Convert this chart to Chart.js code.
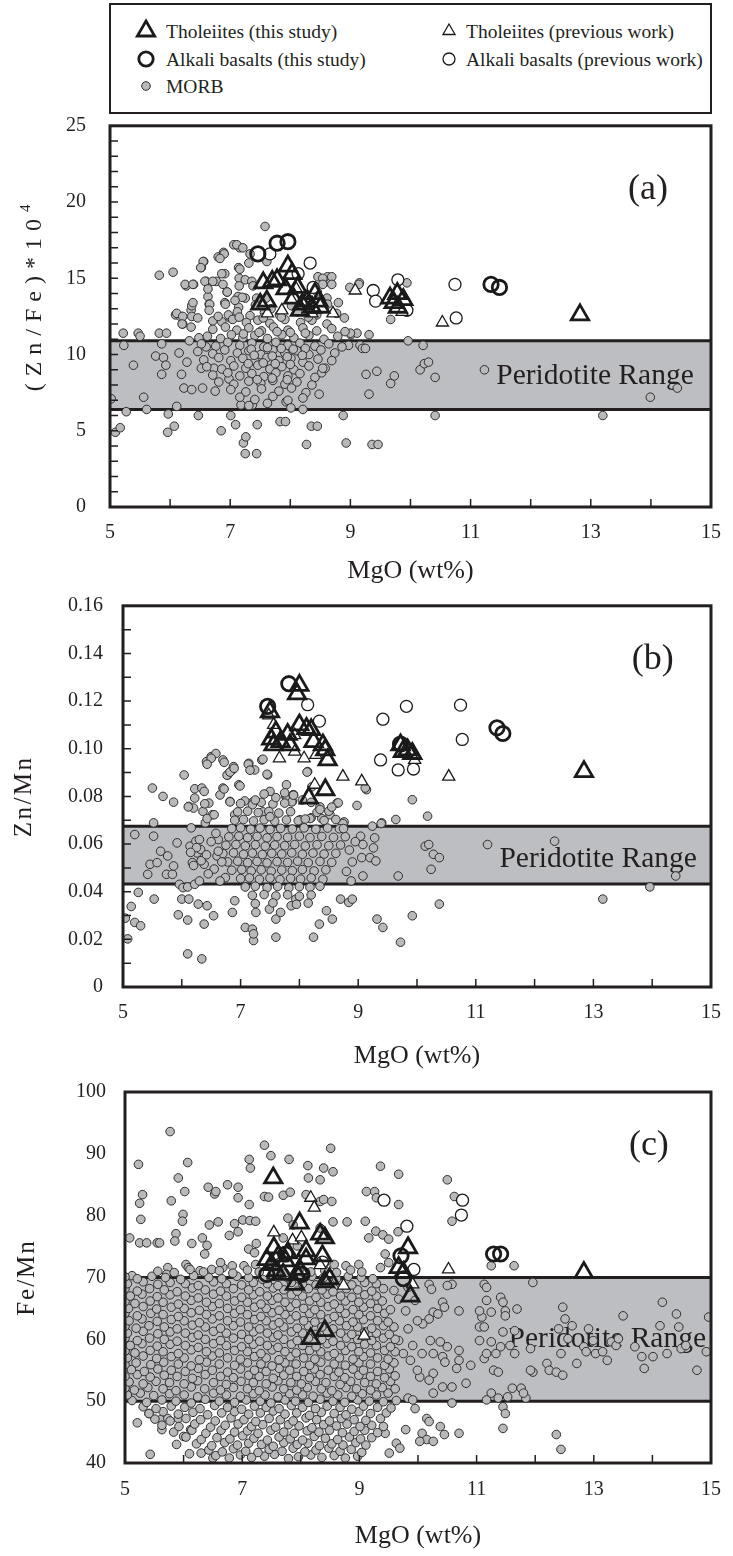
<!DOCTYPE html>
<html><head><meta charset="utf-8">
<script src="https://cdn.jsdelivr.net/npm/chart.js@4.4.1/dist/chart.umd.min.js"></script>
<style>
html,body{margin:0;padding:0;background:#fff;}
body{width:733px;height:1556px;position:relative;overflow:hidden;font-family:"Liberation Serif","Times New Roman",serif;color:#231f20;}
canvas{position:absolute;left:0;}
#legendBox{position:absolute;left:109px;top:3px;width:599px;height:107px;border:2.5px solid #231f20;}
.li{position:absolute;font-family:"Liberation Serif","Times New Roman",serif;font-size:19.5px;white-space:nowrap;line-height:20px;}
.sym{position:absolute;}
</style></head><body>
<div id="legendBox"></div>
<canvas id="cA" width="733" height="480" style="top:113px;width:733px;height:480px"></canvas>
<canvas id="cB" width="733" height="480" style="top:593px;width:733px;height:480px"></canvas>
<canvas id="cC" width="733" height="483" style="top:1073px;width:733px;height:483px"></canvas>
<script>
// ---------------- DATA ----------------
const xTickLabels = [5,7,9,11,13,15];
const yTickLabelsA = [0,5,10,15,20,25];
const yTickLabelsB = [0,0.02,0.04,0.06,0.08,0.10,0.12,0.14,0.16];
const yTickTextB = ['0','0.02','0.04','0.06','0.08','0.10','0.12','0.14','0.16'];
const yTickLabelsC = [40,50,60,70,80,90,100];
const legendLabels = ['Tholeiites (this study)','Tholeiites (previous work)','Alkali basalts (this study)','Alkali basalts (previous work)','MORB'];
const peridotiteA = [6.4,10.9];
const peridotiteB = [0.0432,0.0675];
const peridotiteC = [50,70];

// Panel (a): (Zn/Fe)*1e4 vs MgO
const thoThisA = [[7.5,13.3],[7.61,13.5],[7.55,14.7],[7.7,14.8],[7.78,14.9],[7.96,15.8],[8.03,15.3],[8.05,13.7],[8.16,12.9],[8.2,13.3],[8.28,13.5],[8.36,13.1],[8.41,14.0],[8.47,13.5],[8.5,13.1],[7.92,14.3],[8.12,14.4],[9.66,13.7],[9.78,14.0],[9.88,13.6],[9.79,13.1],[9.72,13.4],[12.82,12.6]];
const thoPrevA = [[9.08,14.2],[8.71,12.7],[8.36,12.7],[7.86,12.9],[7.62,12.7],[10.53,12.1],[9.86,12.8],[8.1,14.3],[8.02,13.6]];
const alkThisA = [[7.46,16.6],[7.78,17.3],[7.96,17.4],[11.34,14.6],[11.48,14.4]];
const alkPrevA = [[8.33,16.0],[8.13,15.3],[7.66,16.6],[9.38,14.2],[9.42,13.5],[9.79,14.9],[9.94,12.9],[8.38,14.4],[10.74,14.6],[10.76,12.4]];
const morbA = [[5.02,7.1],[5.09,4.9],[5.17,5.2],[5.23,10.6],[5.22,11.4],[5.27,6.25],[5.39,9.3],[5.47,11.4],[5.5,11.2],[5.56,7.2],[5.61,6.4],[5.76,9.9],[5.82,11.4],[5.82,15.2],[5.86,10.7],[5.86,8.7],[5.89,9.8],[5.93,9.3],[5.94,11.4],[5.96,4.9],[5.97,6.1],[6.05,15.4],[6.07,5.3],[6.09,12.6],[6.11,6.6],[6.15,10.1],[6.17,12.5],[6.19,8.7],[6.21,12.0],[6.23,7.8],[6.27,14.5],[6.28,9.5],[6.32,10.9],[6.35,12.9],[6.36,7.7],[6.36,13.2],[6.39,14.6],[6.47,6.0],[6.48,11.1],[6.52,15.7],[6.56,16.1],[6.52,9.1],[6.54,7.8],[6.6,10.5],[6.6,14.8],[6.63,13.8],[6.65,13.3],[6.71,12.2],[6.73,9.1],[6.75,7.6],[6.77,14.8],[6.8,16.4],[6.85,5.0],[6.89,16.7],[6.91,15.3],[6.95,14.1],[6.98,8.4],[7.01,6.0],[7.06,17.2],[7.09,5.4],[7.14,15.7],[7.16,17.0],[7.18,6.7],[7.22,4.2],[7.25,3.5],[7.26,4.6],[7.31,16.0],[7.37,6.7],[7.44,3.5],[7.45,5.4],[7.58,18.4],[7.61,16.1],[7.83,5.6],[7.92,5.6],[7.93,6.9],[8.21,6.4],[8.27,4.1],[8.35,5.3],[8.45,5.3],[8.46,15.1],[8.48,7.4],[8.52,8.8],[8.58,9.1],[8.62,15.1],[8.67,14.7],[8.88,6.0],[8.93,4.2],[8.97,10.6],[9.01,11.3],[9.11,11.4],[9.15,14.7],[9.16,10.6],[9.2,10.4],[9.25,10.4],[9.26,8.7],[9.31,11.3],[9.31,7.4],[9.36,4.1],[9.44,8.9],[9.46,4.1],[9.67,12.3],[9.67,8.1],[9.73,8.6],[9.96,10.9],[9.94,14.7],[10.16,9.0],[10.21,10.6],[10.23,9.4],[10.3,9.5],[10.41,8.5],[10.41,6.0],[11.23,9.0],[13.2,6.0],[13.99,7.2],[14.44,7.8],
[7.11,17.2],[7.21,17.0],[7.33,16.6],[6.9,16.6],[6.83,16.3],[6.55,16.1],[6.51,15.7],[6.86,15.3],[7.16,15.6],[6.25,14.6],[6.38,14.6],[6.58,14.8],[6.71,14.8],[6.63,14.3],[6.88,14.6],[7.15,15.0],[7.25,14.9],[7.15,14.5],[7.36,14.8],[8.54,15.0],[8.69,15.1],[8.54,14.6],[8.69,14.6],[8.99,14.4],[9.14,14.6],[9.36,14.1],[6.38,13.4],[6.66,13.3],[6.11,12.7],[6.21,12.5],[6.36,12.5],[6.2,12.0],[6.35,11.8],[6.46,12.4],[6.91,13.4],[7.0,12.4],[7.13,13.8],[7.25,13.7],[7.38,14.5],[7.44,13.7],[9.0,11.4],[8.61,13.7],
[6.92,13.3],[7.14,13.1],[7.42,13.25],[7.68,13.0],[8.02,13.2],[8.28,13.05],[8.62,13.3],[6.97,12.6],[7.12,12.8],[7.33,12.55],[7.57,12.75],[7.82,12.6],[8.12,12.8],[8.44,12.6],[8.77,12.7],[6.86,12.15],[7.04,12.3],[7.27,12.1],[7.46,12.25],[7.66,12.05],[7.91,12.3],[8.17,12.1],[8.36,12.25],[8.61,12.0],[6.71,11.65],[6.92,11.8],[7.11,11.6],[7.31,11.75],[7.52,11.55],[7.72,11.8],[7.96,11.6],[8.21,11.75],[8.44,11.55],[8.69,11.7],[8.91,11.5],[6.62,11.2],[6.84,11.05],[7.02,11.3],[7.21,11.1],[7.41,11.25],[7.62,11.05],[7.86,11.3],[8.06,11.1],[8.31,11.25],[8.56,11.0],[8.79,11.2],[6.52,10.7],[6.76,10.55],[6.96,10.8],[7.16,10.6],[7.36,10.75],[7.56,10.5],[7.76,10.8],[7.96,10.6],[8.16,10.75],[8.41,10.55],[8.64,10.7],[8.86,10.5],[6.46,10.2],[6.71,10.05],[6.91,10.3],[7.12,10.1],[7.31,10.25],[7.51,10.0],[7.71,10.3],[7.91,10.1],[8.11,10.25],[8.31,10.0],[8.51,10.3],[8.74,10.1],[6.56,9.65],[6.81,9.8],[7.01,9.6],[7.21,9.75],[7.41,9.55],[7.61,9.8],[7.81,9.6],[8.01,9.75],[8.21,9.5],[8.46,9.7],[8.69,9.6],[6.61,9.2],[6.86,9.05],[7.06,9.25],[7.26,9.1],[7.46,9.3],[7.66,9.05],[7.86,9.2],[8.06,9.0],[8.31,9.25],[8.54,9.1],[6.71,8.65],[6.96,8.8],[7.16,8.6],[7.36,8.75],[7.56,8.55],[7.76,8.8],[7.96,8.6],[8.16,8.75],[8.41,8.5],[6.81,8.2],[7.06,8.05],[7.31,8.25],[7.51,8.1],[7.71,8.3],[7.91,8.05],[8.11,8.2],[8.36,8.0],[7.01,7.7],[7.26,7.55],[7.52,7.75],[7.81,7.6],[8.02,7.8],[8.26,7.5],[7.16,7.2],[7.41,7.05],[7.71,7.25],[7.96,7.0],[8.21,7.15],[7.31,6.65],[7.62,6.8],[8.01,6.5],
[7.22,11.35],[7.48,11.45],[7.78,11.5],[8.0,11.45],[8.25,11.4],[7.35,10.35],[7.62,10.45],[7.85,10.4],[8.05,10.35],[8.25,10.4],[7.4,9.95],[7.7,9.9],[7.95,9.85],[8.2,9.95],[7.3,9.4],[7.55,9.45],[7.75,9.4],[8.0,9.35],[7.45,8.35],[7.7,8.45],[7.95,8.35],[7.15,12.45],[7.55,12.4],[7.85,12.45],[8.3,12.45],[6.95,14.1],[7.2,13.75],[7.08,13.55],[7.6,13.7],[8.45,14.1],[8.8,13.4],[8.9,12.4],[6.8,12.5],[6.65,12.9]];

// Panel (b): Zn/Mn vs MgO
const thoThisB = [[8.0,0.1266],[7.96,0.123],[7.5,0.1155],[7.52,0.104],[7.6,0.107],[7.68,0.103],[7.8,0.106],[7.84,0.1016],[7.56,0.1016],[8.0,0.11],[8.12,0.1085],[8.2,0.108],[8.24,0.103],[8.4,0.1016],[8.44,0.0995],[8.48,0.0953],[8.16,0.0793],[8.44,0.0828],[9.72,0.1016],[9.84,0.0995],[9.92,0.098],[9.76,0.0988],[12.84,0.0904]];
const thoPrevB = [[7.48,0.114],[7.56,0.11],[7.66,0.096],[7.92,0.0988],[8.08,0.096],[8.28,0.0974],[8.26,0.0849],[8.74,0.0883],[9.06,0.0863],[10.54,0.0883],[9.96,0.0953],[7.92,0.1057]];
const alkThisB = [[7.46,0.1178],[7.82,0.1273],[11.36,0.1088],[11.46,0.1064],[9.72,0.102]];
const alkPrevB = [[8.14,0.1185],[8.34,0.1116],[9.42,0.1124],[9.82,0.1178],[10.74,0.1183],[10.77,0.1039],[9.38,0.0953],[9.68,0.0911],[9.94,0.0915]];
const morbB = [[5.04,0.0289],[5.08,0.0202],[5.14,0.0338],[5.2,0.064],[5.2,0.0271],[5.26,0.0397],[5.3,0.0257],[5.42,0.0473],[5.46,0.0515],[5.5,0.0835],[5.52,0.0689],[5.52,0.0633],[5.53,0.0369],[5.58,0.0522],[5.64,0.057],[5.68,0.08],[5.74,0.0473],[5.76,0.055],[5.84,0.0473],[5.86,0.0776],[5.86,0.0508],[5.92,0.0605],[5.94,0.0303],[5.96,0.0431],[6.0,0.0369],[6.02,0.0417],[6.04,0.089],[6.1,0.0281],[6.1,0.042],[6.1,0.0139],[6.12,0.0369],[6.12,0.0758],[6.14,0.0591],[6.16,0.0668],[6.18,0.0522],[6.2,0.0751],[6.22,0.0431],[6.22,0.0793],[6.22,0.0832],[6.24,0.0612],[6.26,0.0563],[6.28,0.0348],[6.3,0.0619],[6.32,0.0577],[6.34,0.0118],[6.34,0.0835],[6.36,0.0737],[6.38,0.0821],[6.38,0.0515],[6.38,0.0264],[6.4,0.0689],[6.42,0.0946],[6.43,0.0341],[6.46,0.0772],[6.5,0.0967],[6.52,0.0723],[6.54,0.0299],[6.58,0.098],[6.6,0.055],[6.62,0.0619],[6.7,0.0835],[6.7,0.0953],[6.74,0.0459],[6.78,0.089],[6.82,0.0779],[6.86,0.0911],[6.86,0.0313],[6.88,0.0925],[6.9,0.0362],[6.97,0.0849],[7.08,0.025],[7.14,0.0939],[7.2,0.0243],[7.22,0.0195],[7.22,0.0223],[7.24,0.0911],[7.26,0.0313],[7.36,0.0953],[7.46,0.089],[7.49,0.0327],[7.5,0.0821],[7.6,0.0209],[7.6,0.0285],[7.68,0.0313],[7.77,0.08],[7.78,0.0849],[7.86,0.0341],[7.88,0.0779],[7.9,0.0807],[7.94,0.0369],[8.14,0.0904],[8.2,0.071],[8.24,0.0209],[8.34,0.0264],[8.46,0.032],[8.56,0.0285],[8.64,0.0772],[8.7,0.0369],[8.76,0.0693],[8.84,0.0355],[8.9,0.0369],[8.98,0.0762],[9.04,0.0633],[9.06,0.0543],[9.08,0.0598],[9.08,0.0466],[9.14,0.0828],[9.2,0.0543],[9.24,0.0675],[9.26,0.0584],[9.28,0.0626],[9.3,0.0529],[9.32,0.0285],[9.4,0.0689],[9.42,0.025],[9.64,0.0703],[9.68,0.0466],[9.72,0.0188],[9.92,0.0299],[9.92,0.0786],[10.18,0.0717],[10.14,0.0591],[10.2,0.0598],[10.24,0.0494],[10.28,0.0557],[10.38,0.0543],[10.38,0.0348],[11.2,0.0598],[12.34,0.0612],[13.16,0.0369],[13.96,0.042],[14.4,0.0466],
[6.5,0.096],[6.43,0.0935],[6.11,0.0756],[6.39,0.0769],[6.43,0.0707],[6.55,0.0723],[6.65,0.0806],[6.72,0.0831],[6.77,0.0889],[6.82,0.0902],[6.89,0.0918],[6.72,0.0943],[6.82,0.0777],[6.99,0.0844],[7.13,0.0935],[7.16,0.091],[7.45,0.0893],[7.38,0.0956],[7.79,0.0798],[7.89,0.0806],[7.87,0.0777],[8.13,0.0902],[8.21,0.084],[8.35,0.0756],[8.66,0.0773],[9.12,0.0835],[9.39,0.0686],[8.74,0.0686],[8.52,0.0723],[8.38,0.0707],[8.18,0.0707],[8.01,0.0702],[7.38,0.0735],[7.21,0.0777],[7.07,0.0781],[6.9,0.0723],
[7.0,0.077],[7.2,0.0765],[7.35,0.0775],[7.55,0.0768],[7.75,0.0772],[6.95,0.0735],[7.12,0.0738],[7.3,0.0732],[7.48,0.0737],[7.65,0.073],[7.85,0.0736],[8.3,0.0733],[8.5,0.0738],[6.9,0.07],[7.05,0.0703],[7.22,0.0697],[7.4,0.0702],[7.58,0.0696],[7.78,0.0701],[7.98,0.0698],[8.42,0.0699],[8.62,0.0703],[6.85,0.0665],[7.0,0.0668],[7.17,0.0662],[7.33,0.0667],[7.5,0.0661],[7.68,0.0666],[7.88,0.0663],[8.08,0.0668],[8.28,0.0662],[8.48,0.0667],[8.68,0.0664],[6.8,0.063],[6.97,0.0633],[7.12,0.0627],[7.28,0.0632],[7.45,0.0626],[7.62,0.0631],[7.8,0.0628],[8.0,0.0633],[8.18,0.0627],[8.38,0.0632],[8.58,0.0628],[8.78,0.0631],[6.75,0.0595],[6.92,0.0598],[7.08,0.0592],[7.25,0.0597],[7.42,0.0591],[7.58,0.0596],[7.75,0.0593],[7.92,0.0598],[8.1,0.0592],[8.3,0.0597],[8.5,0.0593],[8.7,0.0596],[6.7,0.056],[6.88,0.0563],[7.05,0.0557],[7.2,0.0562],[7.37,0.0556],[7.53,0.0561],[7.7,0.0558],[7.87,0.0563],[8.05,0.0557],[8.23,0.0562],[8.42,0.0558],[8.62,0.0561],[6.78,0.0525],[6.95,0.0528],[7.12,0.0522],[7.28,0.0527],[7.45,0.0521],[7.62,0.0526],[7.8,0.0523],[7.97,0.0528],[8.15,0.0522],[8.35,0.0527],[8.55,0.0523],[6.85,0.049],[7.02,0.0493],[7.18,0.0487],[7.35,0.0492],[7.52,0.0486],[7.7,0.0491],[7.88,0.0488],[8.05,0.0493],[8.25,0.0487],[8.45,0.0492],[7.0,0.0455],[7.15,0.0458],[7.32,0.0452],[7.5,0.0457],[7.67,0.0451],[7.85,0.0456],[8.02,0.0453],[8.2,0.0458],[8.4,0.0452],[7.08,0.042],[7.25,0.0423],[7.45,0.0417],[7.63,0.0422],[7.82,0.0416],[8.0,0.0421],[8.18,0.0418],[8.35,0.0423],[7.2,0.0385],[7.4,0.0388],[7.6,0.0382],[7.8,0.0387],[8.0,0.0381],[8.2,0.0386],[7.25,0.035],[7.55,0.0353],[7.95,0.0347],[8.15,0.0352],
[6.25,0.0585],[6.33,0.053],[6.42,0.0555],[6.5,0.061],[6.55,0.0495],[6.62,0.057],[6.68,0.0525],[6.45,0.0475],[6.3,0.0445],[6.58,0.0645],[6.65,0.0445],[6.2,0.051],[6.15,0.0565],[8.85,0.0575],[8.9,0.0525],[8.95,0.061],[8.8,0.0485],[8.75,0.0665],[8.88,0.0445],[7.9,0.0805],[8.05,0.0785],[8.2,0.0775],[8.35,0.0745],[8.55,0.0755],[7.6,0.0795],[7.4,0.081],[7.25,0.0785],[8.1,0.0705],[7.75,0.0815],[7.5,0.0715]];

// Panel (c): Fe/Mn vs MgO
const thoThisC = [[7.53,86.1],[7.98,78.8],[7.54,74.8],[7.62,73.5],[7.74,72.7],[7.5,72.1],[7.58,71.1],[7.7,70.5],[7.94,70.5],[7.9,68.9],[8.09,73.0],[8.09,74.3],[8.33,77.0],[8.41,76.4],[8.37,73.5],[8.49,69.8],[8.41,69.3],[8.17,60.1],[8.41,61.4],[9.83,74.8],[9.75,70.8],[9.87,67.0],[9.67,71.6],[12.83,70.8],[7.78,74.0],[7.42,72.9],[7.98,71.3]];
const thoPrevC = [[7.54,77.3],[8.17,82.9],[8.23,81.3],[7.86,76.0],[8.01,76.5],[8.73,68.7],[9.08,60.6],[10.52,71.3],[8.33,72.0],[9.91,68.9]];
const alkThisC = [[7.74,73.8],[7.42,70.5],[9.71,73.5],[9.75,69.8],[11.29,73.8],[11.41,73.8],[8.02,70.5]];
const alkPrevC = [[9.42,82.5],[10.76,82.5],[10.74,80.1],[9.81,78.3],[9.93,71.3],[8.37,72.5]];
const morbCSparse = [[5.77,93.6],[5.23,88.3],[6.07,88.6],[7.38,91.4],[7.49,89.7],[7.8,89.1],[7.12,89.1],[7.14,87.7],[8.51,90.9],[8.12,88.1],[8.39,87.7],[8.55,87.1],[8.13,86.1],[8.33,85.8],[9.36,88.0],[9.67,86.7],[10.5,85.8],[5.91,86.1],[5.25,82.0],[5.3,83.4],[6.02,83.9],[6.42,84.6],[6.53,83.5],[6.55,83.9],[6.75,85.0],[6.93,84.6],[6.93,82.9],[7.12,81.8],[7.38,83.1],[7.45,83.0],[7.7,83.3],[7.82,83.8],[8.09,83.4],[8.33,82.3],[8.39,82.6],[8.53,82.3],[9.12,83.9],[9.26,83.9],[9.29,82.9],[9.67,81.8],[10.62,83.1],[10.58,79.1],[5.79,82.4],[5.27,79.4],[5.99,80.2],[5.98,79.1],[5.87,77.1],[5.85,75.9],[5.25,75.6],[5.37,75.6],[5.55,75.6],[5.59,75.6],[5.08,76.4],[6.14,75.5],[6.32,76.4],[6.4,75.2],[6.44,78.5],[6.59,79.0],[6.78,76.8],[6.87,78.7],[6.93,77.4],[7.01,79.3],[7.13,79.2],[7.23,79.1],[7.11,74.6],[7.24,75.5],[7.78,79.6],[7.87,78.5],[8.33,78.0],[8.55,79.0],[8.79,79.0],[9.1,79.1],[9.16,76.4],[9.28,77.5],[9.4,76.9],[9.5,76.2],[9.66,77.4],[8.99,72.1],[9.36,71.6],[9.5,72.4],[9.44,73.8],[11.25,71.9],[11.64,71.9],[5.73,71.6],[5.71,70.5],[5.12,70.3],[6.04,72.1],[6.08,71.6],[6.28,71.1],[6.48,71.3],[6.67,71.6],[6.83,71.9],[7.03,71.9],[7.23,72.1],[7.21,74.0],[7.46,71.9],[8.77,71.9],[8.57,72.1],[8.41,72.4],[7.7,76.4],[7.94,75.1],[6.36,73.8],[6.63,72.4],
[10.19,68.9],[10.23,68.1],[10.42,66.0],[10.45,65.2],[10.58,68.9],[10.5,68.7],[10.7,64.6],[10.26,64.4],[10.19,63.3],[10.34,64.1],[10.08,62.5],[10.5,58.8],[10.7,58.2],[10.21,59.8],[10.38,59.6],[10.26,57.7],[10.42,57.2],[10.7,56.6],[10.9,55.8],[10.66,55.3],[10.46,56.3],[10.26,54.5],[10.19,53.4],[10.42,52.3],[10.26,51.3],[10.58,52.3],[10.82,52.9],[11.09,63.6],[11.05,62.0],[11.13,62.0],[11.05,59.8],[11.25,59.6],[11.13,56.9],[11.29,55.0],[11.37,54.7],[11.41,58.8],[11.33,57.7],[11.17,57.7],[11.45,61.2],[11.49,64.6],[11.49,63.8],[11.25,64.4],[11.41,66.8],[11.45,66.0],[11.13,68.9],[11.17,68.4],[11.17,66.3],[11.05,64.6],[11.25,51.3],[11.37,50.5],[11.45,49.1],[11.49,48.0],[11.53,50.7],[11.61,52.1],[11.69,64.9],[11.65,61.4],[11.57,59.0],[11.65,57.7],[11.92,58.5],[11.96,54.7],[11.92,55.0],[11.76,52.1],[11.84,50.5],[11.96,69.2],[11.8,51.3],[12.2,56.1],[12.24,55.0],[12.36,54.7],[12.44,57.7],[12.47,54.2],[12.47,65.2],[12.51,63.3],[12.4,61.7],[12.56,60.1],[12.63,62.2],[12.71,56.1],[12.83,58.8],[12.87,58.0],[12.91,61.7],[12.99,59.8],[13.03,57.7],[13.15,58.0],[13.23,56.6],[13.3,59.6],[13.38,59.0],[13.5,63.8],[13.42,60.1],[13.82,57.2],[13.86,55.3],[14.01,57.2],[14.13,62.2],[14.17,66.0],[14.25,57.7],[14.41,64.1],[14.45,62.0],[14.49,58.5],[14.57,59.0],[14.76,55.0],[14.96,63.6],[14.92,58.0],[13.7,58.8],
[11.45,45.6],[10.38,45.9],[10.45,44.6],[10.07,44.8],[10.15,43.8],[10.26,43.5],[10.7,44.8],[12.36,44.6],[12.44,42.2],[10.15,47.2],[10.19,46.7],[10.58,49.7],[11.17,50.2],[9.44,44.8],[9.63,43.2],[9.69,42.4],[9.51,41.6],[9.79,45.4],[10.03,43.5],[9.83,50.5],[9.91,50.2],[9.95,48.8],[10.03,53.9],[9.99,55.0],[9.87,56.6],[9.75,57.7],[9.67,59.8],[9.83,61.7],[9.99,63.0],[9.79,64.6],[9.67,66.5],[9.59,67.9],[9.95,66.3],[9.83,68.4],[10.07,57.7],[9.91,59.0],
[5.21,46.5],[5.41,48.0],[5.43,41.4],[5.63,45.4],[5.61,47.0],[5.73,47.2],[5.91,47.2],[5.88,43.0],[6.0,44.3],[6.12,45.4],[6.3,41.6],[6.5,40.8],[6.1,41.5]];
const morbCDense = [
6.55,41.2, 6.78,40.8, 6.97,41.3, 7.16,40.9, 7.38,41.1, 7.55,41.4, 7.79,40.7, 7.96,41.0, 8.17,41.3, 8.36,40.9, 8.57,41.2, 8.76,40.8, 8.97,41.1,
6.43,42.1, 6.66,41.8, 6.85,42.3, 7.06,41.9, 7.27,41.7, 7.46,42.2, 7.68,41.9, 7.87,42.4, 8.07,41.8, 8.26,42.1, 8.48,42.4, 8.67,41.9, 8.86,42.2, 9.04,41.7,
6.22,43.1, 6.48,42.8, 6.7,43.3, 6.92,42.9, 7.11,43.2, 7.33,43.0, 7.53,42.7, 7.71,43.3, 7.94,43.0, 8.12,43.2, 8.32,42.8, 8.53,43.1, 8.72,42.9, 8.94,43.3, 9.11,42.9,
6.04,44.2, 6.3,43.8, 6.57,44.1, 6.79,43.9, 7.01,44.4, 7.2,44.0, 7.43,43.7, 7.63,44.2, 7.82,43.9, 8.03,43.7, 8.23,44.3, 8.42,44.0, 8.63,43.8, 8.83,44.2, 9.02,43.9, 9.21,44.1,
5.83,45.0, 6.14,45.3, 6.38,44.8, 6.64,45.3, 6.87,45.0, 7.09,45.2, 7.27,44.8, 7.49,45.3, 7.71,45.0, 7.89,44.8, 8.11,45.2, 8.31,45.0, 8.49,45.3, 8.71,44.9, 8.91,45.1, 9.09,45.3, 9.31,44.9,
5.63,46.1, 5.92,45.9, 6.19,46.3, 6.46,45.8, 6.71,46.1, 6.93,46.3, 7.16,45.9, 7.35,46.2, 7.57,45.8, 7.79,46.2, 7.97,46.0, 8.19,45.7, 8.39,46.2, 8.61,46.0, 8.79,46.3, 9.01,45.9, 9.21,46.1, 9.41,45.9,
5.51,47.1, 5.77,46.8, 6.04,47.2, 6.29,47.0, 6.54,46.8, 6.81,47.3, 7.03,47.0, 7.23,46.7, 7.46,47.2, 7.65,47.0, 7.87,46.8, 8.09,47.3, 8.27,47.0, 8.49,46.8, 8.69,47.2, 8.91,47.0, 9.11,46.9, 9.36,47.2,
5.41,48.0, 5.65,48.3, 5.91,47.9, 6.16,48.2, 6.41,47.8, 6.65,48.1, 6.87,48.3, 7.11,47.9, 7.31,48.1, 7.53,48.4, 7.73,47.9, 7.93,48.1, 8.15,47.7, 8.35,48.2, 8.57,48.0, 8.77,47.8, 8.99,48.3, 9.19,48.0, 9.46,48.1,
5.31,49.1, 5.53,48.8, 5.79,49.2, 6.02,49.0, 6.28,48.8, 6.53,49.3, 6.75,49.0, 6.99,48.7, 7.21,49.2, 7.41,49.0, 7.63,48.8, 7.84,49.3, 8.03,49.0, 8.25,48.8, 8.45,49.2, 8.67,49.0, 8.87,48.7, 9.07,49.2, 9.31,49.0, 9.54,48.9,
5.12,50.1, 5.37,49.8, 5.63,50.2, 5.87,50.0, 6.13,49.7, 6.37,50.3, 6.61,50.0, 6.87,49.8, 7.07,50.2, 7.31,50.0, 7.49,49.7, 7.73,50.2, 7.91,50.0, 8.13,49.8, 8.33,50.3, 8.55,50.0, 8.75,49.8, 8.97,50.2, 9.17,50.0, 9.41,49.9, 9.63,50.1,
5.04,51.0, 5.26,51.3, 5.49,50.9, 5.76,51.2, 6.01,51.0, 6.24,50.7, 6.51,51.3, 6.73,51.0, 6.97,50.8, 7.19,51.2, 7.39,51.0, 7.61,50.7, 7.81,51.2, 8.03,51.0, 8.21,50.8, 8.45,51.3, 8.63,51.0, 8.87,50.8, 9.05,51.2, 9.29,51.0, 9.49,51.3,
5.0,52.1, 5.16,51.8, 5.39,52.2, 5.65,52.0, 5.87,51.7, 6.13,52.3, 6.36,52.0, 6.63,51.8, 6.85,52.2, 7.09,52.0, 7.29,51.7, 7.51,52.3, 7.71,52.0, 7.93,51.8, 8.11,52.2, 8.35,52.0, 8.53,51.7, 8.77,52.2, 8.95,52.0, 9.19,51.8, 9.39,52.2, 9.61,52.0,
5.07,53.1, 5.31,52.8, 5.53,53.2, 5.76,53.0, 6.01,52.8, 6.24,53.3, 6.51,53.0, 6.73,52.7, 6.98,53.2, 7.19,53.0, 7.41,52.8, 7.61,53.3, 7.83,53.0, 8.01,52.8, 8.25,53.2, 8.43,53.0, 8.67,52.7, 8.85,53.2, 9.09,53.0, 9.29,52.8, 9.53,53.2,
5.0,54.0, 5.21,54.3, 5.43,53.9, 5.67,54.2, 5.89,54.0, 6.15,53.7, 6.37,54.3, 6.63,54.0, 6.85,53.8, 7.11,54.2, 7.29,54.0, 7.53,53.7, 7.71,54.2, 7.93,54.0, 8.15,53.8, 8.33,54.3, 8.57,54.0, 8.75,53.8, 8.99,54.2, 9.19,54.0, 9.43,53.8, 9.61,54.1,
5.11,55.1, 5.33,54.8, 5.56,55.2, 5.79,55.0, 6.03,54.8, 6.25,55.3, 6.49,55.0, 6.75,54.7, 6.97,55.2, 7.21,55.0, 7.41,54.8, 7.63,55.3, 7.81,55.0, 8.05,54.8, 8.23,55.2, 8.47,55.0, 8.65,54.7, 8.89,55.2, 9.07,55.0, 9.31,54.8, 9.51,55.2,
5.0,55.9, 5.19,56.2, 5.44,55.9, 5.66,56.3, 5.91,56.0, 6.13,55.7, 6.39,56.3, 6.61,56.0, 6.87,55.8, 7.09,56.2, 7.32,56.0, 7.51,55.7, 7.73,56.2, 7.92,56.0, 8.15,55.8, 8.34,56.3, 8.57,56.0, 8.76,55.8, 8.99,56.2, 9.19,56.0, 9.43,55.8, 9.59,56.2,
5.04,57.0, 5.31,57.3, 5.54,56.9, 5.79,57.2, 6.01,57.0, 6.27,56.7, 6.49,57.3, 6.75,57.0, 6.97,56.8, 7.21,57.2, 7.41,57.0, 7.63,56.7, 7.82,57.2, 8.05,57.0, 8.24,56.8, 8.47,57.3, 8.66,57.0, 8.89,56.8, 9.07,57.2, 9.31,57.0, 9.49,56.8,
5.0,58.1, 5.17,57.8, 5.43,58.2, 5.65,58.0, 5.91,57.7, 6.13,58.3, 6.39,58.0, 6.61,57.8, 6.87,58.2, 7.09,58.0, 7.32,57.7, 7.51,58.3, 7.73,58.0, 7.92,57.8, 8.15,58.2, 8.34,58.0, 8.57,57.7, 8.76,58.2, 8.99,58.0, 9.19,57.8, 9.43,58.2, 9.61,58.0,
5.09,59.0, 5.29,59.3, 5.55,58.9, 5.77,59.2, 6.03,59.0, 6.25,58.7, 6.51,59.3, 6.73,59.0, 6.99,58.8, 7.19,59.2, 7.43,59.0, 7.61,58.7, 7.84,59.2, 8.03,59.0, 8.26,58.8, 8.45,59.3, 8.68,59.0, 8.87,58.8, 9.09,59.2, 9.29,59.0, 9.53,58.8,
5.0,60.2, 5.21,59.8, 5.42,60.2, 5.67,60.0, 5.89,59.7, 6.15,60.3, 6.37,60.0, 6.63,59.8, 6.85,60.2, 7.11,60.0, 7.3,59.7, 7.53,60.3, 7.71,60.0, 7.94,59.8, 8.13,60.2, 8.36,60.0, 8.55,59.7, 8.78,60.2, 8.97,60.0, 9.21,59.8, 9.41,60.2, 9.61,60.0,
5.04,61.0, 5.31,61.3, 5.56,60.9, 5.77,61.2, 6.03,61.0, 6.25,60.7, 6.51,61.3, 6.73,61.0, 6.99,60.8, 7.19,61.2, 7.43,61.0, 7.61,60.7, 7.84,61.2, 8.03,61.0, 8.26,60.8, 8.45,61.3, 8.68,61.0, 8.87,60.8, 9.09,61.2, 9.29,61.0, 9.51,60.8,
5.0,62.1, 5.19,61.8, 5.41,62.2, 5.67,62.0, 5.89,61.7, 6.15,62.3, 6.37,62.0, 6.63,61.8, 6.85,62.2, 7.11,62.0, 7.3,61.7, 7.53,62.3, 7.71,62.0, 7.94,61.8, 8.13,62.2, 8.36,62.0, 8.55,61.7, 8.78,62.2, 8.97,62.0, 9.21,61.8, 9.41,62.2, 9.59,62.0,
5.07,63.0, 5.29,63.3, 5.55,62.9, 5.79,63.2, 6.01,63.0, 6.27,62.7, 6.49,63.3, 6.75,63.0, 6.97,62.8, 7.21,63.2, 7.41,63.0, 7.63,62.7, 7.82,63.2, 8.05,63.0, 8.24,62.8, 8.47,63.3, 8.66,63.0, 8.89,62.8, 9.07,63.2, 9.31,63.0, 9.49,62.8,
5.0,64.2, 5.21,63.8, 5.44,64.2, 5.65,64.0, 5.91,63.7, 6.13,64.3, 6.39,64.0, 6.61,63.8, 6.87,64.2, 7.09,64.0, 7.32,63.7, 7.51,64.3, 7.73,64.0, 7.92,63.8, 8.15,64.2, 8.34,64.0, 8.57,63.7, 8.76,64.2, 8.99,64.0, 9.19,63.8, 9.43,64.2,
5.06,65.0, 5.31,65.3, 5.54,64.9, 5.79,65.2, 6.01,65.0, 6.27,64.7, 6.49,65.3, 6.75,65.0, 6.97,64.8, 7.21,65.2, 7.41,65.0, 7.63,64.7, 7.82,65.2, 8.05,65.0, 8.24,64.8, 8.47,65.3, 8.66,65.0, 8.89,64.8, 9.07,65.2, 9.31,65.0, 9.53,64.8,
5.0,66.1, 5.17,65.8, 5.43,66.2, 5.65,66.0, 5.91,65.7, 6.13,66.3, 6.39,66.0, 6.61,65.8, 6.87,66.2, 7.09,66.0, 7.32,65.7, 7.51,66.3, 7.73,66.0, 7.92,65.8, 8.15,66.2, 8.34,66.0, 8.57,65.7, 8.76,66.2, 8.99,66.0, 9.19,65.8, 9.39,66.2,
5.09,67.0, 5.29,67.3, 5.55,66.9, 5.77,67.2, 6.03,67.0, 6.25,66.7, 6.51,67.3, 6.73,67.0, 6.99,66.8, 7.19,67.2, 7.43,67.0, 7.61,66.7, 7.84,67.2, 8.03,67.0, 8.26,66.8, 8.45,67.3, 8.68,67.0, 8.87,66.8, 9.09,67.2, 9.29,67.0,
5.0,68.2, 5.21,67.8, 5.42,68.2, 5.67,68.0, 5.89,67.7, 6.15,68.3, 6.37,68.0, 6.63,67.8, 6.85,68.2, 7.11,68.0, 7.3,67.7, 7.53,68.3, 7.71,68.0, 7.94,67.8, 8.13,68.2, 8.36,68.0, 8.55,67.7, 8.78,68.2, 8.97,68.0, 9.21,67.8, 9.41,68.2,
5.04,69.0, 5.31,69.3, 5.56,68.9, 5.77,69.2, 6.03,69.0, 6.25,68.7, 6.51,69.3, 6.73,69.0, 6.99,68.8, 7.19,69.2, 7.43,69.0, 7.61,68.7, 7.84,69.2, 8.03,69.0, 8.26,68.8, 8.45,69.3, 8.68,69.0, 8.87,68.8, 9.09,69.2, 9.29,69.0,
5.0,70.1, 5.21,69.8, 5.46,70.2, 5.69,70.0, 5.95,69.7, 6.17,70.3, 6.43,70.0, 6.65,69.8, 6.91,70.2, 7.11,70.0, 7.35,69.7, 7.54,70.2, 7.77,70.0, 7.96,69.8, 8.19,70.2, 8.39,70.0, 8.61,69.8, 8.81,70.2, 9.03,70.0, 9.23,69.8,
5.56,71.0, 5.84,70.8, 6.11,71.3, 6.34,70.9, 6.61,71.1, 6.84,70.7, 7.09,71.2, 7.29,70.9, 7.53,71.1, 7.73,70.7, 7.97,71.2, 8.17,70.9, 8.41,71.1, 8.61,70.8, 8.85,71.2, 9.04,70.9];

// ---------------- RENDERING ----------------
Chart.defaults.font.family = '"Liberation Serif","Times New Roman",serif';
const INK = '#231f20';
const SERIF = '"Liberation Serif","Times New Roman",serif';

const toXY = arr => arr.map(p => ({x: p[0], y: p[1]}));
const flatXY = arr => { const o = []; for (let i = 0; i < arr.length; i += 2) o.push({x: arr[i], y: arr[i+1]}); return o; };

const panelPlugin = {
  id: 'panel',
  beforeDatasetsDraw(chart) {
    const P = chart.options.plugins.panel;
    const {ctx, chartArea: ca, scales: {x, y}} = chart;
    ctx.save();
    const yHi = y.getPixelForValue(P.band[1]), yLo = y.getPixelForValue(P.band[0]);
    ctx.fillStyle = '#bdbec1';
    ctx.fillRect(ca.left, yHi, ca.right - ca.left, yLo - yHi);
    ctx.strokeStyle = INK; ctx.lineWidth = 3;
    ctx.beginPath();
    ctx.moveTo(ca.left, yHi); ctx.lineTo(ca.right, yHi);
    ctx.moveTo(ca.left, yLo); ctx.lineTo(ca.right, yLo);
    ctx.stroke();
    ctx.fillStyle = INK;
    ctx.font = '29.5px ' + SERIF;
    ctx.textAlign = 'center'; ctx.textBaseline = 'middle';
    ctx.fillText('Peridotite Range', x.getPixelForValue(P.bandLabel[0]), y.getPixelForValue(P.bandLabel[1]));
    ctx.restore();
  },
  afterDatasetsDraw(chart) {
    const P = chart.options.plugins.panel;
    const {ctx, chartArea: ca, scales: {x, y}} = chart;
    ctx.save();
    ctx.strokeStyle = INK; ctx.fillStyle = INK;
    ctx.lineWidth = 1.5;
    ctx.beginPath();
    x.ticks.forEach(t => {
      if (t.value <= x.min || t.value >= x.max) return;
      const px = x.getPixelForValue(t.value);
      ctx.moveTo(px, ca.bottom); ctx.lineTo(px, ca.bottom - 8);
    });
    if (P.yMinorTicks) {
      y.ticks.forEach(t => {
        if (t.value <= y.min + 1e-9 || t.value >= y.max - 1e-9) return;
        const py = y.getPixelForValue(t.value);
        ctx.moveTo(ca.left, py); ctx.lineTo(ca.left + 8, py);
      });
    }
    ctx.stroke();
    ctx.lineWidth = 3;
    ctx.strokeRect(ca.left, ca.top, ca.right - ca.left, ca.bottom - ca.top);
    ctx.font = '20px ' + SERIF;
    ctx.textBaseline = 'middle';
    ctx.textAlign = 'center';
    xTickLabels.forEach(v => ctx.fillText(String(v), x.getPixelForValue(v), ca.bottom + P.xTickDy));
    ctx.textAlign = 'right';
    P.yTicks.forEach((v, i) => ctx.fillText(P.yTickText ? P.yTickText[i] : String(v), P.yTickRight, y.getPixelForValue(v)));
    ctx.font = '26px ' + SERIF;
    ctx.textAlign = 'center';
    ctx.fillText('MgO (wt%)', (ca.left + ca.right) / 2, ca.bottom + P.xTitleDy);
    ctx.save();
    ctx.translate(P.yTitleX, (ca.top + ca.bottom) / 2 + P.yTitleDy);
    ctx.rotate(-Math.PI / 2);
    ctx.font = P.yTitleSize + 'px ' + SERIF;
    ctx.letterSpacing = P.yTitleSpacing + 'px';
    ctx.textAlign = 'left';
    const w1 = ctx.measureText(P.yTitle).width;
    let w2 = 0;
    if (P.yTitleSup) { ctx.font = Math.round(P.yTitleSize * 0.62) + 'px ' + SERIF; w2 = ctx.measureText(P.yTitleSup).width; }
    const start = -(w1 + w2) / 2;
    ctx.font = P.yTitleSize + 'px ' + SERIF;
    ctx.fillText(P.yTitle, start, 0);
    if (P.yTitleSup) {
      ctx.font = Math.round(P.yTitleSize * 0.62) + 'px ' + SERIF;
      ctx.fillText(P.yTitleSup, start + w1, -P.yTitleSize * 0.38);
    }
    ctx.restore();
    ctx.font = '36px ' + SERIF;
    ctx.textAlign = 'center';
    ctx.fillText(P.letter, x.getPixelForValue(P.letterPos[0]), y.getPixelForValue(P.letterPos[1]));
    ctx.restore();
  }
};

function makeChart(id, S, D) {
  const datasets = [
    {label: legendLabels[0], data: toXY(D.thoThis), pointStyle: 'triangle', pointRadius: 10, pointBorderWidth: 2.8, pointBorderColor: '#1a1a1a', pointBackgroundColor: 'rgba(0,0,0,0)', order: 1},
    {label: legendLabels[2], data: toXY(D.alkThis), pointStyle: 'circle', pointRadius: 7.2, pointBorderWidth: 2.8, pointBorderColor: '#1a1a1a', pointBackgroundColor: 'rgba(0,0,0,0)', order: 2},
    {label: legendLabels[1], data: toXY(D.thoPrev), pointStyle: 'triangle', pointRadius: 7, pointBorderWidth: 1.3, pointBorderColor: '#1a1a1a', pointBackgroundColor: '#ffffff', order: 3},
    {label: legendLabels[3], data: toXY(D.alkPrev), pointStyle: 'circle', pointRadius: 6, pointBorderWidth: 1.3, pointBorderColor: '#1a1a1a', pointBackgroundColor: '#ffffff', order: 4},
    {label: legendLabels[4], data: D.morb, pointStyle: 'circle', pointRadius: 4.3, pointBorderWidth: 1, pointBorderColor: '#2e2e2e', pointBackgroundColor: '#b9b9bb', order: 5}
  ];
  datasets.forEach(d => { d.clip = 0; d.pointHoverRadius = d.pointRadius; });
  return new Chart(document.getElementById(id), {
    type: 'scatter',
    data: {datasets},
    options: {
      responsive: false, animation: false, devicePixelRatio: 1,
      layout: {padding: {top: S.padTop, right: 22, bottom: 0, left: 0}},
      plugins: {legend: {display: false}, tooltip: {enabled: false}, panel: S},
      scales: {
        x: {type: 'linear', min: 5, max: 15, ticks: {display: false, stepSize: 1}, grid: {display: false, drawTicks: false}, border: {display: false}, afterFit: s => { s.height = S.xAxisH; }},
        y: {type: 'linear', min: S.yMin, max: S.yMax, ticks: {display: false, stepSize: S.yStep}, grid: {display: false, drawTicks: false}, border: {display: false}, afterFit: s => { s.width = S.yAxisW; }}
      }
    },
    plugins: [panelPlugin]
  });
}

makeChart('cA', {padTop: 11, xAxisH: 86, yAxisW: 110, yMin: 0, yMax: 25, yStep: 1, yMinorTicks: true,
  yTicks: yTickLabelsA, yTickRight: 86, xTickDy: 26, xTitleDy: 64,
  yTitle: '(Zn/Fe)*10', yTitleSup: '4', yTitleSize: 24, yTitleSpacing: 7, yTitleX: 35, yTitleDy: -22,
  band: peridotiteA, bandLabel: [13.07, 8.55], letter: '(a)', letterPos: [13.95, 20.8]},
  {thoThis: thoThisA, thoPrev: thoPrevA, alkThis: alkThisA, alkPrev: alkPrevA, morb: toXY(morbA)});

makeChart('cB', {padTop: 9, xAxisH: 86, yAxisW: 123, yMin: 0, yMax: 0.16, yStep: 0.01, yMinorTicks: true,
  yTicks: yTickLabelsB, yTickText: yTickTextB, yTickRight: 103, xTickDy: 26, xTitleDy: 69,
  yTitle: 'Zn/Mn', yTitleSup: '', yTitleSize: 25, yTitleSpacing: 2.5, yTitleX: 24, yTitleDy: 0,
  band: peridotiteB, bandLabel: [13.08, 0.0536], letter: '(b)', letterPos: [14.01, 0.1376]},
  {thoThis: thoThisB, thoPrev: thoPrevB, alkThis: alkThisB, alkPrev: alkPrevB, morb: toXY(morbB)});

makeChart('cC', {padTop: 19, xAxisH: 93, yAxisW: 125, yMin: 40, yMax: 100, yStep: 10, yMinorTicks: false,
  yTicks: yTickLabelsC, yTickRight: 106, xTickDy: 27, xTitleDy: 73,
  yTitle: 'Fe/Mn', yTitleSup: '', yTitleSize: 25, yTitleSpacing: 2, yTitleX: 27, yTitleDy: 0,
  band: peridotiteC, bandLabel: [13.23, 60], letter: '(c)', letterPos: [13.94, 91.4]},
  {thoThis: thoThisC, thoPrev: thoPrevC, alkThis: alkThisC, alkPrev: alkPrevC, morb: toXY(morbCSparse).concat(flatXY(morbCDense))});

// ---------------- LEGEND (HTML) ----------------
const legendLayout = [
  {sym: 'triBold', cx: 146, cy: 31, tx: 166}, {sym: 'triThin', cx: 449, cy: 31, tx: 466},
  {sym: 'cirBold', cx: 146, cy: 59, tx: 166}, {sym: 'cirThin', cx: 449, cy: 59, tx: 466},
  {sym: 'morb', cx: 146, cy: 86, tx: 166}
];
const symSvg = {
  triBold: '<polygon points="0,-10 8.66,5 -8.66,5" fill="none" stroke="#1a1a1a" stroke-width="2.8"/>',
  triThin: '<polygon points="0,-7 6.06,3.5 -6.06,3.5" fill="#fff" stroke="#1a1a1a" stroke-width="1.3"/>',
  cirBold: '<circle cx="0" cy="0" r="7.2" fill="none" stroke="#1a1a1a" stroke-width="2.8"/>',
  cirThin: '<circle cx="0" cy="0" r="6" fill="#fff" stroke="#1a1a1a" stroke-width="1.3"/>',
  morb: '<circle cx="0" cy="0" r="4.3" fill="#b9b9bb" stroke="#2e2e2e" stroke-width="1"/>'
};
legendLayout.forEach((e, i) => {
  const s = document.createElement('div');
  s.className = 'sym';
  s.style.left = (e.cx - 13) + 'px'; s.style.top = (e.cy - 13) + 'px';
  s.innerHTML = '<svg width="26" height="26" viewBox="-13 -13 26 26">' + symSvg[e.sym] + '</svg>';
  document.body.appendChild(s);
  const t = document.createElement('div');
  t.className = 'li';
  t.style.left = e.tx + 'px'; t.style.top = (e.cy - 9) + 'px';
  t.textContent = legendLabels[i];
  document.body.appendChild(t);
});
</script>
</body></html>
